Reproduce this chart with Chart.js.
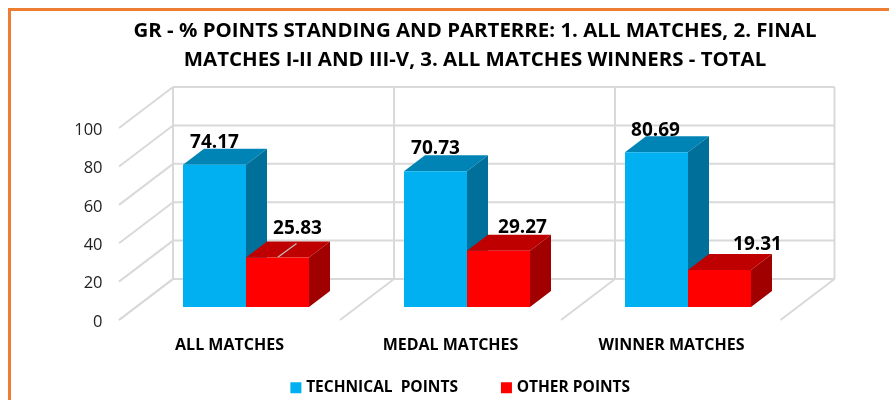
<!DOCTYPE html>
<html><head><meta charset="utf-8">
<style>html,body{margin:0;padding:0;background:#fff}#w{width:889px;height:400px;position:relative}</style>
<script src="https://cdn.jsdelivr.net/npm/chart.js@4/dist/chart.umd.min.js"></script>
</head><body><div id="w"><canvas id="c" width="889" height="400"></canvas></div>
<script>
const categories = ['ALL MATCHES', 'MEDAL MATCHES', 'WINNER MATCHES'];
const technicalPoints = [74.17, 70.73, 80.69];
const otherPoints = [25.83, 29.27, 19.31];
const seriesNames = ['TECHNICAL  POINTS', 'OTHER POINTS'];
const titleLines = ['GR - % POINTS STANDING AND PARTERRE: 1. ALL MATCHES, 2. FINAL', 'MATCHES I-II AND III-V, 3. ALL MATCHES WINNERS - TOTAL'];
const FONT = '"Open Sans"';
const depth = {x: 21, y: -16};
const wall = {x: 37.5, y: -28};
const front = {x: -16.5, y: 13};
const faces = [{top: '#0084B5', side: '#006F99'}, {top: '#BF0000', side: '#A00000'}];
const labelShift = [[[0,-22],[20,-29]],[[0,-23],[24,-23]],[[-1,-22],[38,-25]]];

function poly(ctx, pts, color){
  ctx.fillStyle = color; ctx.beginPath();
  pts.forEach((p,i)=> i ? ctx.lineTo(p[0],p[1]) : ctx.moveTo(p[0],p[1]));
  ctx.closePath(); ctx.fill();
}
const frame3d = {
  id: 'frame3d',
  beforeDatasetsDraw(chart){
    const ctx = chart.ctx, ys = chart.scales.y, a = chart.chartArea;
    const step = (a.right - a.left) / categories.length;
    const L = a.left + wall.x, R = a.right + wall.x - 1.5;
    ctx.save();
    ctx.strokeStyle = '#D9D9D9'; ctx.lineWidth = 2;
    const line = (x1,y1,x2,y2)=>{ctx.beginPath();ctx.moveTo(x1,y1);ctx.lineTo(x2,y2);ctx.stroke();};
    ys.ticks.forEach(t=>{
      const y = ys.getPixelForValue(t.value) + wall.y;
      line(L,y,R,y);
      line(L,y,a.left+front.x,ys.getPixelForValue(t.value)+front.y);
    });
    const y0 = ys.getPixelForValue(0), y100 = ys.getPixelForValue(100);
    for(let i=0;i<=categories.length;i++){
      const x = a.left + i*step - (i === categories.length ? 1.5 : 0);
      line(x+wall.x,y100+wall.y,x+wall.x,y0+wall.y);
      line(x+wall.x,y0+wall.y,x+front.x,y0+front.y);
    }
    // value labels sit behind the 3D tops
    ctx.fillStyle = '#000'; ctx.font = 'bold 19px '+FONT; ctx.textAlign='center'; ctx.textBaseline='middle';
    chart.data.datasets.forEach((ds,d)=>{
      chart.getDatasetMeta(d).data.forEach((bar,i)=>{
        const s = labelShift[i][d];
        ctx.fillText(ds.data[i].toFixed(2), bar.x+s[0], bar.y+s[1]);
      });
    });
    // depth faces
    categories.forEach((c,i)=>{
      [0,1].forEach(d=>{
        const b = chart.getDatasetMeta(d).data[i];
        const l=b.x-b.width/2, r=b.x+b.width/2, t=b.y, bt=b.base;
        poly(ctx,[[l,t],[r,t],[r+depth.x,t+depth.y],[l+depth.x,t+depth.y]],faces[d].top);
        poly(ctx,[[r,t],[r+depth.x,t+depth.y],[r+depth.x,bt+depth.y],[r,bt]],faces[d].side);
      });
    });
    // leader line of the first red bar
    const rb0 = chart.getDatasetMeta(1).data[0];
    ctx.strokeStyle='#BFBFBF'; ctx.lineWidth=1.2;
    line(rb0.x, rb0.y, rb0.x+19, rb0.y-14);
    ctx.restore();
  }
};
const moveBlocks = {
  id:'moveBlocks',
  afterLayout(chart){
    chart.titleBlock.left += 75.75; chart.titleBlock.right += 75.75;
    chart.legend.left += 62.5; chart.legend.right += 62.5;
    chart.legend.top = 380 - 46; chart.legend.bottom = 400; chart.legend.height = 66;
  },
  beforeDraw(chart){
    const ctx=chart.ctx; ctx.save();
    ctx.strokeStyle='#ED7D31'; ctx.lineWidth=3;
    ctx.beginPath(); ctx.moveTo(9.5,400); ctx.lineTo(9.5,9.5); ctx.lineTo(889,9.5); ctx.stroke();
    ctx.restore();
  }
};
new Chart(document.getElementById('c'), {
  type:'bar',
  data:{labels:categories,datasets:[
    {label:seriesNames[0],data:technicalPoints,backgroundColor:'#00B0F0',barPercentage:1,categoryPercentage:126/221},
    {label:seriesNames[1],data:otherPoints,backgroundColor:'#FF0000',barPercentage:1,categoryPercentage:126/221}
  ]},
  options:{
    responsive:false,animation:false,
    layout:{padding:{left:0,right:90.5,top:0,bottom:0}},
    plugins:{
      title:{display:true,text:titleLines,color:'#000',font:{family:FONT,size:20.45,weight:'bold',lineHeight:1.42},padding:{top:17,bottom:40}},
      legend:{position:'bottom',maxHeight:30,labels:{color:'#000',font:{family:FONT,size:15.5,weight:'bold'},usePointStyle:true,pointStyle:'rect',boxWidth:5,boxHeight:11,padding:46}},
      tooltip:{enabled:false}
    },
    scales:{
      x:{grid:{display:false},border:{display:false},ticks:{color:'#000',font:{family:FONT,size:16,weight:'bold'},labelOffset:-16.5,padding:21,maxRotation:0},afterFit(s){s.height=63;}},
      y:{min:0,max:100,grid:{display:false},border:{display:false},
         ticks:{stepSize:20,color:'#222',font:{family:FONT,size:16.5},labelOffset:15,padding:25},
         afterFit(s){s.width=135.5;}}
    }
  },
  plugins:[frame3d,moveBlocks]
});
</script></body></html>
